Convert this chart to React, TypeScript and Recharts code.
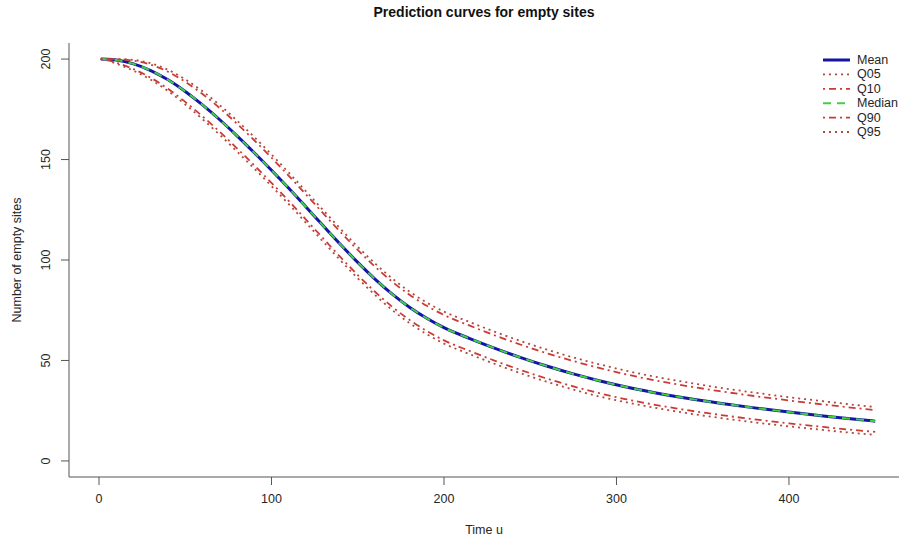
import React from "react";
import { LineChart, Line, XAxis, YAxis, Legend } from "recharts";

// Time points of the simulation (u)
const times = [1, 5, 10, 20, 30, 40, 50, 60, 70, 80, 90, 100, 110, 120, 130, 140, 150, 160, 170, 180, 190, 200, 215, 230, 245, 260, 275, 290, 305, 320, 340, 360, 380, 400, 420, 440, 450];

// Predicted number of empty sites
const meanVals = [200, 199.9, 199.5, 197.6, 194.3, 189.7, 183.9, 177.2, 169.8, 161.8, 153.4, 144.7, 135.7, 126.4, 117, 107.7, 98.8, 90.5, 83, 76.5, 71, 66.3, 60.9, 55.9, 51.3, 47.1, 43.3, 39.9, 36.9, 34.3, 31.3, 28.7, 26.4, 24.3, 22.4, 20.6, 19.8];
const medianVals = [200, 199.9, 199.5, 197.6, 194.3, 189.7, 183.9, 177.2, 169.8, 161.8, 153.4, 144.7, 135.7, 126.4, 117, 107.7, 98.8, 90.5, 83, 76.5, 71, 66.3, 60.9, 55.9, 51.3, 47.1, 43.3, 39.9, 36.9, 34.3, 31.3, 28.7, 26.4, 24.3, 22.4, 20.6, 19.8];
const q05Vals = [200, 199.3, 197.7, 194.2, 189.7, 184.1, 177.4, 170.1, 162.3, 154, 145.5, 136.8, 127.8, 118.5, 109.1, 99.8, 90.9, 82.6, 75.1, 68.6, 63.1, 58.4, 53.1, 48.1, 43.5, 39.3, 35.5, 32.1, 29.3, 26.8, 23.9, 21.4, 19.2, 17.2, 15.4, 13.7, 13];
const q10Vals = [200, 199.5, 198.2, 195, 190.7, 185.2, 178.7, 171.5, 163.8, 155.6, 147.1, 138.4, 129.4, 120.1, 110.7, 101.4, 92.5, 84.2, 76.7, 70.2, 64.7, 60, 54.7, 49.7, 45.1, 40.9, 37.1, 33.7, 30.8, 28.3, 25.4, 22.9, 20.7, 18.7, 16.9, 15.2, 14.5];
const q90Vals = [200, 200, 199.9, 199.2, 197.2, 193.7, 188.7, 182.6, 175.6, 167.8, 159.6, 150.9, 141.9, 132.6, 123.2, 113.9, 105, 96.7, 89.2, 82.7, 77.2, 72.6, 67.3, 62.3, 57.7, 53.5, 49.7, 46.3, 43.2, 40.5, 37.4, 34.7, 32.3, 30.1, 28.1, 26.2, 25.3];
const q95Vals = [200, 200, 200, 199.6, 197.9, 194.7, 189.9, 184, 177.1, 169.4, 161.2, 152.5, 143.5, 134.2, 124.8, 115.5, 106.6, 98.3, 90.8, 84.3, 78.8, 74.3, 69.1, 64.1, 59.5, 55.3, 51.5, 48.1, 45, 42.3, 39.2, 36.4, 34, 31.7, 29.7, 27.7, 26.8];

const xTicks = [0, 100, 200, 300, 400];
const yTicks = [0, 50, 100, 150, 200];

const data = times.map((t, i) => ({
  t,
  mean: meanVals[i],
  q05: q05Vals[i],
  q10: q10Vals[i],
  median: medianVals[i],
  q90: q90Vals[i],
  q95: q95Vals[i],
}));

// Drawing styles for each curve, in legend order
const series = [
  { key: "mean", name: "Mean", color: "#1414a6", width: 3, dash: undefined },
  { key: "q05", name: "Q05", color: "#b04a3e", width: 1.8, dash: "2 4" },
  { key: "q10", name: "Q10", color: "#cc3a36", width: 1.8, dash: "2 4 7 4" },
  { key: "median", name: "Median", color: "#44cc44", width: 2, dash: "8 6" },
  { key: "q90", name: "Q90", color: "#cc3a36", width: 1.8, dash: "2 4 7 4" },
  { key: "q95", name: "Q95", color: "#b04a3e", width: 1.8, dash: "2 4" },
];

const FONT = "'Liberation Sans', Arial, sans-serif";
const AXIS = "#555";
const TEXT = "#262626";

const XTick = ({ x, y, payload }: any) => (
  <text x={x} y={y + 12} textAnchor="middle" dominantBaseline="central" fontSize={12.5} fontFamily={FONT} fill={TEXT}>
    {payload.value}
  </text>
);

const YTick = ({ x, y, payload }: any) => (
  <text
    x={x - 13}
    y={y}
    transform={`rotate(-90 ${x - 13} ${y})`}
    textAnchor="middle"
    dominantBaseline="central"
    fontSize={12.5}
    fontFamily={FONT}
    fill={TEXT}
  >
    {payload.value}
  </text>
);

const LegendBox = () => (
  <svg width={82} height={92}>
    {series.map((s, i) => {
      const y = 8 + i * 14.4;
      return (
        <g key={s.key}>
          <line x1={5} x2={32} y1={y} y2={y} stroke={s.color} strokeWidth={s.width} strokeDasharray={s.dash} />
          <text x={39} y={y} dominantBaseline="central" fontSize={12.5} fontFamily={FONT} fill={TEXT}>
            {s.name}
          </text>
        </g>
      );
    })}
  </svg>
);

export default function App() {
  return (
    <div style={{ position: "absolute", left: 0, top: 0, width: 901, height: 537, background: "#fff", fontFamily: FONT }}>
      <div
        style={{
          position: "absolute",
          left: 284,
          top: 4,
          width: 400,
          textAlign: "center",
          fontWeight: "bold",
          fontSize: 14,
          color: "#111",
          lineHeight: "16px",
        }}
      >
        Prediction curves for empty sites
      </div>
      <LineChart width={901} height={537} data={data} margin={{ top: 43, right: 2, bottom: 0, left: 0 }}>
        <XAxis
          dataKey="t"
          type="number"
          domain={[-17.4, 463.8]}
          ticks={xTicks}
          tick={<XTick />}
          tickSize={8}
          stroke={AXIS}
          height={60}
          allowDataOverflow
          label={(props: any) => {
            const vb = props.viewBox;
            return (
              <text x={vb.x + vb.width / 2} y={530} textAnchor="middle" dominantBaseline="central" fontSize={12.5} fontFamily={FONT} fill={TEXT}>
                Time u
              </text>
            );
          }}
        />
        <XAxis xAxisId="top" dataKey="t" type="number" orientation="top" domain={[-17.4, 463.8]} tick={false} tickLine={false} stroke={AXIS} height={0} />
        <YAxis
          type="number"
          domain={[-8, 208]}
          ticks={yTicks}
          tick={<YTick />}
          tickSize={8}
          stroke={AXIS}
          width={69}
          allowDataOverflow
          label={(props: any) => {
            const vb = props.viewBox;
            const cy = vb.y + vb.height / 2;
            return (
              <text x={17} y={cy} transform={`rotate(-90 17 ${cy})`} textAnchor="middle" dominantBaseline="central" fontSize={12.5} fontFamily={FONT} fill={TEXT}>
                Number of empty sites
              </text>
            );
          }}
        />
        <YAxis yAxisId="right" orientation="right" type="number" domain={[-8, 208]} tick={false} tickLine={false} stroke={AXIS} width={0} />
        <Legend
          layout="horizontal"
          verticalAlign="middle"
          align="center"
          content={() => <LegendBox />}
          wrapperStyle={{ left: 818, top: 52, width: 82, height: 92 }}
        />
        {series.map((s) => (
          <Line
            key={s.key}
            dataKey={s.key}
            name={s.name}
            type="monotone"
            stroke={s.color}
            strokeWidth={s.width}
            strokeDasharray={s.dash}
            dot={false}
            activeDot={false}
            isAnimationActive={false}
          />
        ))}
      </LineChart>
    </div>
  );
}
